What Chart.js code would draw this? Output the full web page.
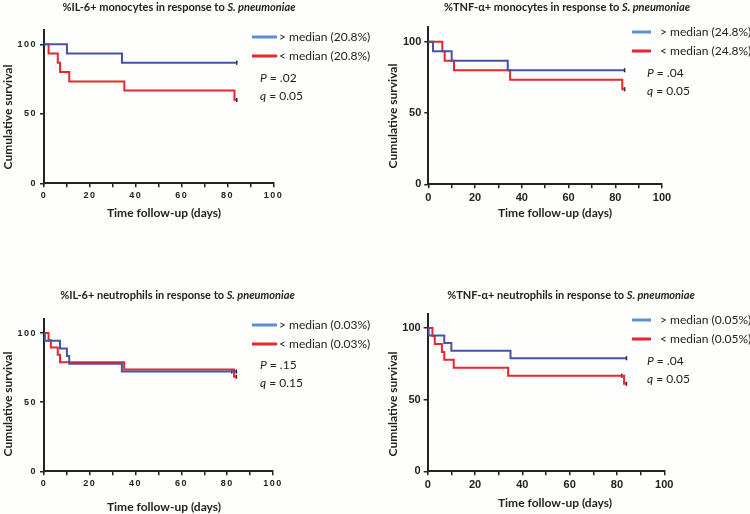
<!DOCTYPE html>
<html>
<head>
<meta charset="utf-8">
<script src="https://cdn.jsdelivr.net/npm/chart.js@4.4.1/dist/chart.umd.min.js"></script>
<style>
  body { margin: 0; background: #fefefc; }
  #wrap { position: relative; width: 750px; height: 514px; }
  canvas { position: absolute; }
</style>
</head>
<body>
<div id="wrap">
  <canvas id="c0" width="375" height="257" style="left:0;top:0"></canvas>
  <canvas id="c1" width="375" height="257" style="left:375px;top:0"></canvas>
  <canvas id="c2" width="375" height="257" style="left:0;top:257px"></canvas>
  <canvas id="c3" width="375" height="257" style="left:375px;top:257px"></canvas>
</div>
<script>
// panel texts
const cellTypes = ['%IL-6+ monocytes', '%TNF-α+ monocytes', '%IL-6+ neutrophils', '%TNF-α+ neutrophils'];
const medians = ['20.8%', '24.8%', '0.03%', '0.05%'];
const pValues = ['.02', '.04', '.15', '.04'];
const qValues = ['0.05', '0.05', '0.15', '0.05'];
const yTickValues = [0, 50, 100];

// > median group: step times (days) and cumulative survival (%)
const highDays = [[0, 10, 34, 84], [0, 2, 10, 34, 84], [0, 0.4, 7, 10, 11, 34, 84], [0, 0.4, 7, 10, 35, 84]];
const highSurv = [[100, 93.3, 86.7, 86.7], [100, 93.3, 86.7, 80, 80], [100, 94.4, 88.9, 83.3, 77.8, 72.2, 72.2], [100, 94.7, 89.5, 84.2, 78.9, 78.9]];
// < median group
const lowDays = [[0, 2, 6, 7, 11, 35, 83, 84], [0, 6, 7, 11, 35, 83, 84], [0, 2, 3, 6, 7, 35, 83, 84], [0, 2, 3, 6, 7, 11, 34, 83, 84]];
const lowSurv = [[100, 93.3, 86.7, 80, 73.3, 66.7, 60, 60], [100, 93.3, 86.7, 80, 73.3, 66.7, 66.7], [100, 94.7, 89.5, 84.2, 78.9, 73.7, 68.4, 68.4], [100, 94.4, 88.9, 83.3, 77.8, 72.2, 66.7, 61.1, 61.1]];
// censored observations
const highCensDays = [[84], [84], [82, 84], [84]];
const highCensSurv = [[86.7], [80], [72.2, 72.2], [78.9]];
const lowCensDays = [[84], [84], [84], [82, 84]];
const lowCensSurv = [[60], [66.7], [68.4], [66.7, 61.1]];

const BLUE = '#4753a6', BLUE_LEG = '#5b8fd0', RED = '#e8262d', INK = '#222';

// where things sit inside each 375x257 panel
const geo = [
  {L: 44, R: 273.5, T: 30.4, B: 183.3, tick: 9, sp: '1.5px', tx: 179, ty: 7, lx1: 252, lx2: 277, ltx: 279, ly: 37, pX: 260, pY: 78, xlx: 164, xly: 213, ylx: 8, yly: 117},
  {L: 53.3, R: 287, T: 27.4, B: 184.3, tick: 11, sp: '0px', tx: 192, ty: 7, lx1: 257, lx2: 276, ltx: 285, ly: 32, pX: 272, pY: 73, xlx: 180, xly: 213, ylx: 18, yly: 116},
  {L: 44, R: 273, T: 62.2, B: 214.3, tick: 9, sp: '1.5px', tx: 177.5, ty: 38, lx1: 252, lx2: 277, ltx: 279, ly: 68, pX: 260, pY: 108, xlx: 164, xly: 250, ylx: 8, yly: 147},
  {L: 52.7, R: 289.3, T: 56.7, B: 214.3, tick: 11, sp: '0px', tx: 196, ty: 38, lx1: 257, lx2: 276, ltx: 285, ly: 63, pX: 272, pY: 104, xlx: 180, xly: 246, ylx: 18, yly: 147}
];

function pts(xs, ys) {
  return xs.map((x, k) => ({x: x, y: ys[k]}));
}

function drawRuns(ctx, runs, x, y, align) {
  let w = 0;
  runs.forEach(r => { ctx.font = r.font; w += ctx.measureText(r.text).width; });
  let cx = align === 'center' ? x - w / 2 : x;
  ctx.textAlign = 'left';
  runs.forEach(r => {
    ctx.font = r.font;
    ctx.fillText(r.text, cx, y);
    cx += ctx.measureText(r.text).width;
  });
}

const panelText = {
  id: 'panelText',
  beforeDraw(chart) {
    chart.ctx.letterSpacing = chart.options.plugins.panelText.g.sp;
  },
  afterDraw(chart) {
    const o = chart.options.plugins.panelText;
    const g = o.g, i = o.i;
    const ctx = chart.ctx;
    ctx.save();
    ctx.letterSpacing = '0px';
    ctx.fillStyle = INK;
    ctx.textBaseline = 'middle';

    drawRuns(ctx, [
      {text: cellTypes[i] + ' in response to ', font: 'bold 11px Lato'},
      {text: 'S. pneumoniae', font: 'italic bold 11px Lato'}
    ], g.tx, g.ty, 'center');

    // legend
    ctx.lineWidth = 3;
    ctx.strokeStyle = BLUE_LEG;
    ctx.beginPath(); ctx.moveTo(g.lx1, g.ly); ctx.lineTo(g.lx2, g.ly); ctx.stroke();
    ctx.strokeStyle = RED;
    ctx.beginPath(); ctx.moveTo(g.lx1, g.ly + 19); ctx.lineTo(g.lx2, g.ly + 19); ctx.stroke();
    ctx.font = '12px Lato';
    ctx.fillText('> median (' + medians[i] + ')', g.ltx, g.ly);
    ctx.fillText('< median (' + medians[i] + ')', g.ltx, g.ly + 19);

    drawRuns(ctx, [{text: 'P', font: 'italic 12px Lato'}, {text: ' = ' + pValues[i], font: '12px Lato'}], g.pX, g.pY, 'left');
    drawRuns(ctx, [{text: 'q', font: 'italic 12px Lato'}, {text: ' = ' + qValues[i], font: '12px Lato'}], g.pX, g.pY + 18, 'left');

    // axis titles
    ctx.font = 'bold 12px Lato';
    ctx.textAlign = 'center';
    ctx.fillText('Time follow-up (days)', g.xlx, g.xly);
    ctx.translate(g.ylx, g.yly);
    ctx.rotate(-Math.PI / 2);
    ctx.fillText('Cumulative survival', 0, 0);
    ctx.restore();
  }
};

function makeChart(i) {
  const g = geo[i];
  const tickFont = {family: 'Liberation Sans', size: g.tick, weight: 'bold'};
  new Chart(document.getElementById('c' + i), {
    type: 'line',
    data: {
      datasets: [
        {data: pts(highDays[i], highSurv[i]), borderColor: BLUE, borderWidth: 2, stepped: true, pointRadius: 0},
        {data: pts(lowDays[i], lowSurv[i]), borderColor: RED, borderWidth: 2, stepped: true, pointRadius: 0},
        {data: pts(highCensDays[i], highCensSurv[i]), showLine: false, pointStyle: 'line', rotation: 90, pointRadius: 2, borderColor: '#111', borderWidth: 1.5},
        {data: pts(lowCensDays[i], lowCensSurv[i]), showLine: false, pointStyle: 'line', rotation: 90, pointRadius: 2, borderColor: '#111', borderWidth: 1.5}
      ]
    },
    options: {
      responsive: false,
      animation: false,
      events: [],
      layout: {padding: {left: 0, top: g.T, right: 375 - g.R, bottom: 0}},
      plugins: {
        legend: {display: false},
        tooltip: {enabled: false},
        panelText: {g: g, i: i}
      },
      scales: {
        x: {
          type: 'linear', min: 0, max: 100,
          afterFit: s => { s.height = 257 - g.B; },
          grid: {drawOnChartArea: false, drawTicks: true, tickLength: 4, color: INK, lineWidth: 1.5},
          border: {display: true, color: INK, width: 2},
          ticks: {
            stepSize: 10, autoSkip: false, maxRotation: 0, padding: 3,
            color: INK, font: tickFont,
            callback: v => (v % 20 === 0 ? v : '')
          }
        },
        y: {
          min: 0, max: 110,
          afterFit: s => { s.width = g.L; },
          afterBuildTicks: s => { s.ticks = yTickValues.map(v => ({value: v})); },
          grid: {drawOnChartArea: false, drawTicks: true, tickLength: 4, color: INK, lineWidth: 1.5},
          border: {display: true, color: INK, width: 2},
          ticks: {padding: 3, color: INK, font: tickFont}
        }
      }
    },
    plugins: [panelText]
  });
}

[0, 1, 2, 3].forEach(makeChart);
</script>
</body>
</html>
